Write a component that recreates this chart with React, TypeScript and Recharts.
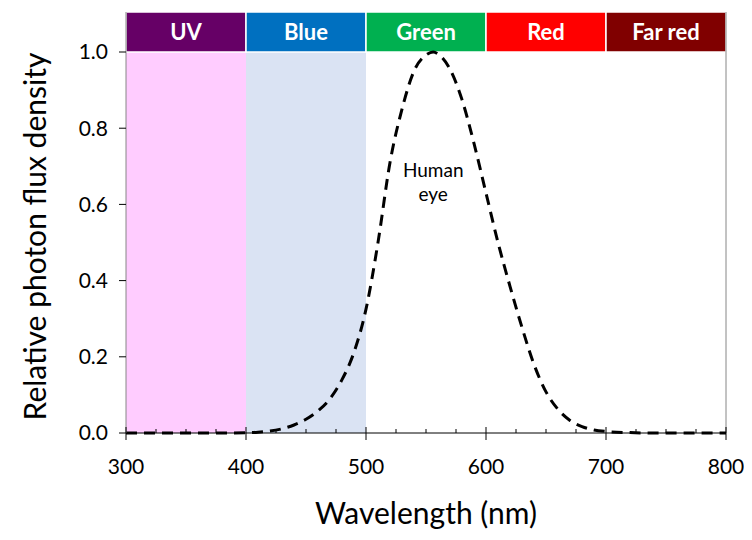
import React from 'react';
import { ComposedChart, Line, XAxis, YAxis, ReferenceArea, ReferenceLine, ReferenceDot } from 'recharts';

const wavelengths = [300, 320, 340, 360, 380, 400, 410, 420, 430, 440, 450, 460, 470, 480, 490, 500, 510, 520, 530, 540, 550, 556, 560, 570, 580, 590, 600, 610, 620, 630, 640, 650, 660, 670, 680, 690, 700, 720, 740, 760, 780, 800];
const humanEye = [0, 0, 0, 0, 0, 0.0005, 0.002, 0.005, 0.011, 0.021, 0.036, 0.058, 0.09, 0.14, 0.212, 0.325, 0.5, 0.71, 0.85, 0.95, 0.992, 1.0, 0.995, 0.955, 0.875, 0.76, 0.63, 0.5, 0.385, 0.277, 0.18, 0.108, 0.062, 0.033, 0.017, 0.008, 0.004, 0.001, 0, 0, 0, 0];

const xTicks = [300, 325, 350, 375, 400, 425, 450, 475, 500, 525, 550, 575, 600, 625, 650, 675, 700, 725, 750, 775, 800];
const yTicks = [0, 0.2, 0.4, 0.6, 0.8, 1.0];

const bandNames = ['UV', 'Blue', 'Green', 'Red', 'Far red'];
const bandStarts = [300, 400, 500, 600, 700];
const bandEnds = [400, 500, 600, 700, 800];
const bandColors = ['#660066', '#0070C0', '#00B050', '#FF0000', '#800000'];

const shadeStarts = [300, 400];
const shadeEnds = [400, 500];
const shadeColors = ['#FFCCFF', '#DAE3F3'];

const bandBottom = 1.0;
const bandTop = 1.105;
const annotationX = 556;
const annotationY = 0.66;

const data = wavelengths.map((w, i) => ({ w, v: humanEye[i] }));

const FONT = 'Lato, "Open Sans", sans-serif';

const XTick = (props: any) => {
  const { x, y, payload } = props;
  const v = payload.value;
  const major = v % 100 === 0;
  return (
    <g>
      {major ? (
        <line x1={x} x2={x} y1={y - 6} y2={y + 7} stroke="#000" strokeWidth={1} />
      ) : (
        <line x1={x} x2={x} y1={y - 4} y2={y} stroke="#000" strokeWidth={1} />
      )}
      {major && (
        <text x={x} y={y + 41} textAnchor="middle" fontSize={21} fontFamily={FONT} fill="#000">
          {v}
        </text>
      )}
    </g>
  );
};

const AnnotationShape = (props: any) => {
  const { cx, cy } = props;
  return (
    <g>
      <text x={cx} y={cy - 5} textAnchor="middle" fontSize={19} fontFamily={FONT} fill="#000">Human</text>
      <text x={cx} y={cy + 19} textAnchor="middle" fontSize={19} fontFamily={FONT} fill="#000">eye</text>
    </g>
  );
};

const YLabel = (props: any) => {
  const vb = props.viewBox;
  const cx = vb.x + 26;
  const cy = vb.y + vb.height / 2 + 14;
  return (
    <text x={cx} y={cy} transform={`rotate(-90, ${cx}, ${cy})`} textAnchor="middle" dominantBaseline="central" fontSize={30} fontFamily={FONT} fill="#000">
      Relative photon flux density
    </text>
  );
};

const XLabel = (props: any) => {
  const vb = props.viewBox;
  const cx = vb.x + vb.width / 2;
  return (
    <text x={cx} y={vb.y + 91} textAnchor="middle" fontSize={30} fontFamily={FONT} fill="#000">
      Wavelength (nm)
    </text>
  );
};

export default function App() {
  return (
    <div style={{ width: 744, height: 532 }}>
      <ComposedChart width={744} height={532} data={data} margin={{ top: 4, right: 26, left: 0, bottom: 0 }}>
        {shadeStarts.map((s, i) => (
          <ReferenceArea key={'s' + i} x1={s} x2={shadeEnds[i]} y1={0} y2={bandBottom} fill={shadeColors[i]} fillOpacity={1} stroke="none" />
        ))}
        <XAxis
          dataKey="w"
          type="number"
          domain={[300, 800]}
          ticks={xTicks}
          interval={0}
          tick={<XTick />}
          tickLine={false}
          tickSize={0}
          tickMargin={0}
          axisLine={{ stroke: '#000', strokeWidth: 1 }}
          height={107}
          label={<XLabel />}
        />
        <YAxis
          type="number"
          domain={[0, bandTop]}
          ticks={yTicks}
          interval={0}
          tickFormatter={(v: number) => v.toFixed(1)}
          width={118}
          tickSize={7}
          tickMargin={11}
          tickLine={{ stroke: '#000' }}
          axisLine={{ stroke: '#868686' }}
          tick={{ fontSize: 21, fontFamily: FONT, fill: '#000' }}
          label={<YLabel />}
        />
        {bandStarts.map((s, i) => (
          <ReferenceArea
            key={'b' + i}
            x1={s}
            x2={bandEnds[i]}
            y1={bandBottom}
            y2={bandTop}
            fill={bandColors[i]}
            fillOpacity={1}
            stroke="#fff"
            strokeWidth={1.5}
            label={{ value: bandNames[i], position: 'center', fill: '#fff', fontSize: 22, fontWeight: 'bold', fontFamily: FONT }}
          />
        ))}
        <ReferenceLine x={800} stroke="#868686" strokeWidth={1} />
        <Line
          type="monotone"
          dataKey="v"
          stroke="#000"
          strokeWidth={3}
          strokeDasharray="11 7"
          dot={false}
          isAnimationActive={false}
        />
        <ReferenceDot x={annotationX} y={annotationY} r={0} shape={<AnnotationShape />} />
      </ComposedChart>
    </div>
  );
}
